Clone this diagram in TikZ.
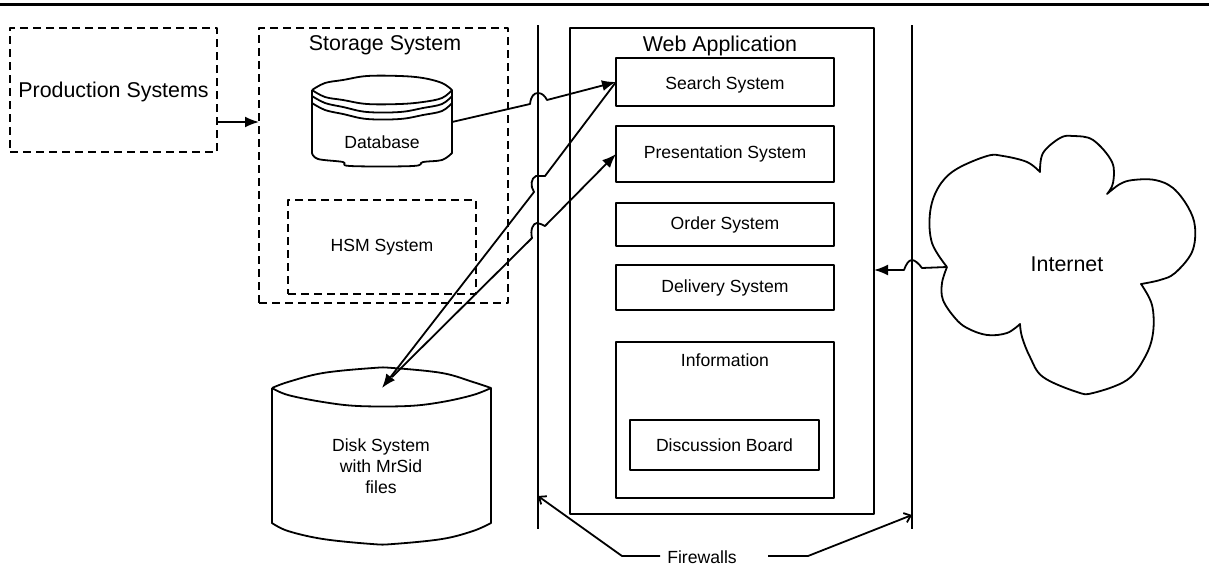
\documentclass[tikz,border=0pt]{standalone}
\usepackage{fontspec}
\setmainfont{Liberation Sans}
\usetikzlibrary{positioning, arrows.meta}

\begin{document}
\begin{tikzpicture}[x=0.5pt, y=-0.5pt, line width=0.9pt, line join=round,
		big/.style={font=\fontsize{10.7}{12.8}\selectfont},
		small/.style={font=\fontsize{8.8}{10.5}\selectfont, align=center},
		box/.style={draw, small, outer sep=0pt, inner sep=0pt, minimum width=109pt},
		dashbox/.style={draw, outer sep=0pt, inner sep=0pt, dash pattern=on 4pt off 2.5pt},
		conn/.style={-{Latex[length=7pt, width=5.5pt]}},
		note/.style={-{Straight Barb[length=3pt, width=5pt]}},
		wavy/.style={smooth, tension=0.6}]
		\useasboundingbox (0,0) rectangle (1209,568);

		\draw[line width=1.5pt] (0,4) -- (1209,4);

		\node [dashbox, big, minimum width=103.5pt, minimum height=62pt, text height=9.9pt] (prod) at (113.5,90) {Production Systems};
		\node [dashbox, minimum width=124.5pt, minimum height=137.5pt] (storage) at (383.5,165.5) {};
		\node [dashbox, small, minimum width=94pt, minimum height=47pt] (hsm) at (382,247) {HSM System};
		\node [big] (storagetitle) at (385,45) {Storage System};

		\draw plot[wavy] coordinates {(312,90) (325,83) (343,80) (367,76) (400,76) (423,78) (442,83) (452,90)}
			-- plot[wavy] coordinates {(452,90) (442,98) (423,102) (400,104) (367,104) (343,100) (325,97) (312,90)};
		\draw plot[wavy] coordinates {(312,96) (325,103) (343,107) (367,112) (400,112) (423,108) (442,104) (452,96)};
		\draw plot[wavy] coordinates {(312,103) (325,110) (343,114) (367,119) (400,119) (423,115) (442,111) (452,103)};
		\draw (312,90) -- (312,153) -- plot[wavy] coordinates {(312,153) (318,159) (343,162) (350,166) (413,166) (423,162) (442,160) (452,153)} -- (452,90);
		\node [small] (database) at (382,142) {Database};

		\draw plot[wavy] coordinates {(272,388) (288,382) (323,373) (373,368) (393,368) (442,373) (473,382) (491,388)}
			-- plot[wavy] coordinates {(491,388) (473,395) (442,402) (408,406) (358,406) (323,402) (288,395) (272,388)};
		\draw (272,388) -- (272,523) -- plot[wavy] coordinates {(272,523) (288,531) (323,539) (372,544) (393,544) (442,539) (473,531) (491,523)} -- (491,388);
		\node [small] (disk) at (381,466) {Disk System\\with MrSid\\files};

		\coordinate (fwlefttop) at (538,25);
		\coordinate (fwleftbot) at (538,529);
		\coordinate (fwrighttop) at (912,25);
		\coordinate (fwrightbot) at (912,529);
		\draw (fwlefttop) -- (fwleftbot);
		\draw (fwrighttop) -- (fwrightbot);

		\node [draw, outer sep=0pt, inner sep=0pt, minimum width=152pt, minimum height=243pt] (web) at (722,271) {};
		\node [big] (webtitle) at (720,46) {Web Application};
		\node [box, minimum height=24pt, text height=9.4pt] (search) at (725,82) {Search System};
		\node [box, minimum height=28pt, below=10pt of search] (presentation) {Presentation System};
		\node [box, minimum height=21.5pt, below=10.5pt of presentation] (order) {Order System};
		\node [box, minimum height=22.5pt, below=9.5pt of order] (delivery) {Delivery System};
		\node [box, minimum height=78pt, below=16pt of delivery] (information) {};
		\node [small] (infotitle) at (725,360) {Information};
		\node [box, minimum width=94.5pt, minimum height=25pt] (discussion) at (724.5,445) {Discussion Board};

		\draw plot[wavy] coordinates {(947,267) (932,243) (930,213) (938,188) (955,170) (987,156) (1003,156) (1027,162) (1040,172)}
			-- plot[wavy] coordinates {(1040,172) (1043,153) (1060,138) (1073,136) (1093,140) (1112,162) (1113,183) (1107,194)}
			-- plot[wavy] coordinates {(1107,194) (1120,184) (1133,180) (1155,180) (1173,188) (1188,207) (1195,227) (1192,252) (1175,273) (1160,280) (1141,284)}
			-- plot[wavy] coordinates {(1141,284) (1152,305) (1153,333) (1145,357) (1127,380) (1093,393) (1077,392) (1043,377) (1030,357) (1022,337) (1020,324)}
			-- plot[wavy] coordinates {(1020,324) (1007,333) (987,335) (967,328) (955,318) (943,300) (942,283) (947,267)};
		\node [big] (internet) at (1067,264) {Internet};

		\coordinate (prodout) at (217,122);
		\coordinate (dbout) at (452,122);
		\coordinate (disktip) at (382,388);
		\coordinate (diskout) at (392,377);
		\coordinate (cloudout) at (947,267);
		\coordinate (webin) at (874,270);

		\draw[conn] (prodout) -- (prodout -| storage.west);
		\draw[conn] (dbout) -- (530,104) .. controls (531,96) and (534,93) .. (538,93) .. controls (542,93) and (545,96) .. (547,100) -- (search.west);
		\draw[conn] (search.west) -- (545,176) -- (536,176) .. controls (531,178) and (530,186) .. (534,192) -- (disktip);
		\draw[conn] (diskout) -- (532,238) .. controls (530,230) and (533,223) .. (537,223) .. controls (540,223) and (542,225) .. (545,226) -- (presentation.west);
		\draw[conn] (cloudout) -- (922,268) .. controls (919,264) and (915,260) .. (912,260) .. controls (909,260) and (906,264) .. (904,270) -- (webin);

		\node [small] (firewalls) at (702,557) {Firewalls};
		\coordinate (fwleftknee) at (622,556);
		\coordinate (fwrightknee) at (808,556);
		\coordinate (fwleftstart) at (660,556);
		\coordinate (fwrightstart) at (768,556);
		\draw[note] (fwleftstart) -- (fwleftknee) -- (538,496);
		\draw[note] (fwrightstart) -- (fwrightknee) -- (912,515);
	\end{tikzpicture}
\end{document}
